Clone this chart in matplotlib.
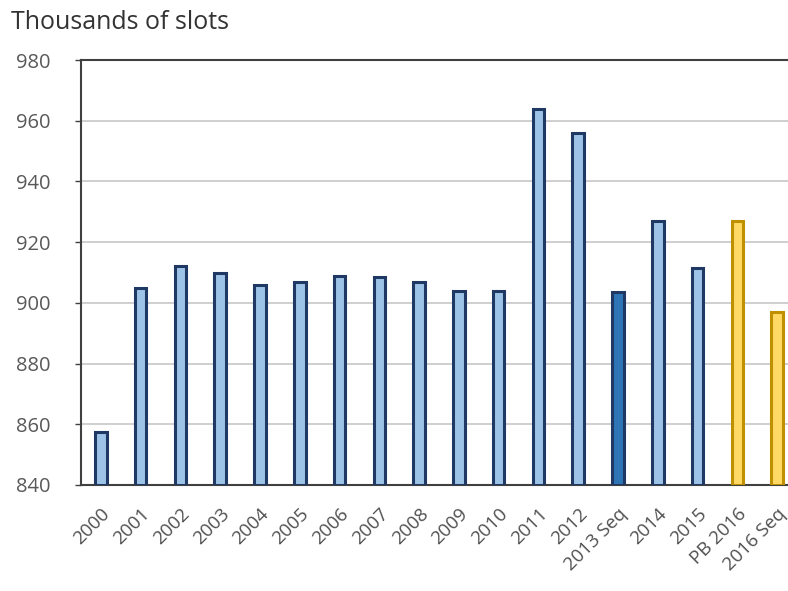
import matplotlib.pyplot as plt

# Airport slot counts by year (thousands)
years = ['2000', '2001', '2002', '2003', '2004', '2005', '2006', '2007',
         '2008', '2009', '2010', '2011', '2012', '2013 Seq', '2014', '2015',
         'PB 2016', '2016 Seq']
slots = [857.5, 905, 912, 910, 906, 907, 909, 908.5, 907, 904, 904,
         964, 956, 903.5, 927, 911.5, 927, 897]

light_blue = '#9DC3E6'
dark_blue = '#2E75B6'
navy = '#1F3864'
yellow = '#FFD966'
gold = '#BF9000'

faces = [light_blue] * len(years)
edges = [navy] * len(years)
faces[years.index('2013 Seq')] = dark_blue
for name in ('PB 2016', '2016 Seq'):
    faces[years.index(name)] = yellow
    edges[years.index(name)] = gold

plt.rcParams['font.family'] = ['Open Sans', 'DejaVu Sans']

fig = plt.figure(figsize=(7.88, 5.91), dpi=100)
ax = fig.add_axes([0.1028, 0.1794, 0.9086, 0.719])

x = range(len(years))
ax.bar(x, [v - 840 for v in slots], bottom=840, width=0.29,
       color=faces, edgecolor=edges, linewidth=2.2, zorder=3)

ax.set_ylim(840, 980)
ax.set_xlim(-0.5, len(years) - 0.5)
ax.set_yticks(range(840, 981, 20))
ax.yaxis.grid(True, color='#cccccc', linewidth=1.3, zorder=0)
ax.set_xticks(list(x))
ax.set_xticklabels(years, rotation=45, ha='right', rotation_mode='anchor')
ax.tick_params(axis='x', length=0, pad=14, labelsize=13.5, labelcolor='#505050')
ax.tick_params(axis='y', length=4, width=1, color='#404040', pad=18,
               labelsize=14.5, labelcolor='#595959')
for side in ('left', 'top', 'bottom', 'right'):
    ax.spines[side].set_color('#404040')
    ax.spines[side].set_linewidth(1.5)

fig.text(0.014, 0.951, 'Thousands of slots', fontsize=18, color='#333333',
         va='baseline', ha='left')

fig.savefig('out.png', dpi=100)
